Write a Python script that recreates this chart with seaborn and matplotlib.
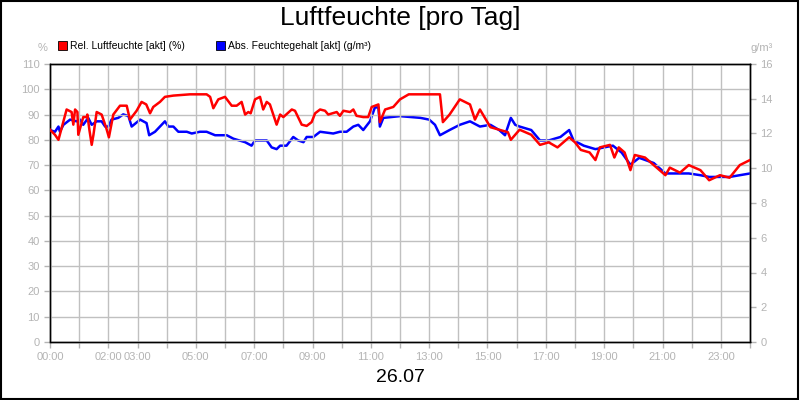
import matplotlib
matplotlib.use("Agg")
import matplotlib.pyplot as plt
import seaborn as sns
import pandas as pd
from matplotlib.patches import Rectangle

plt.rcParams["font.family"] = "Liberation Sans"

# Relative humidity (%) – time in hours
rel_t = [0, 0.17, 0.29, 0.57, 0.74, 0.8, 0.86, 0.94, 0.97, 1.14, 1.26, 1.28, 1.35, 1.43, 1.49, 1.6, 1.77, 1.92, 2.02,
         2.17, 2.4, 2.63, 2.74, 2.97, 3.14, 3.3, 3.43, 3.54, 3.77, 3.94, 4.23, 4.8, 5.37, 5.49, 5.6, 5.77, 6.0, 6.23,
         6.4, 6.57, 6.69, 6.8, 6.88, 7.03, 7.2, 7.31, 7.43, 7.54, 7.77, 7.89, 8.0, 8.29, 8.4, 8.63, 8.8, 8.97, 9.09,
         9.26, 9.43, 9.54, 9.83, 9.94, 10.06, 10.29, 10.4, 10.51, 10.74, 10.91, 11.03, 11.26, 11.31, 11.49, 11.77,
         12.0, 12.3, 13.0, 13.37, 13.47, 13.7, 14.05, 14.4, 14.57, 14.74, 15.1, 15.4, 15.7, 15.8, 16.1, 16.5, 16.8,
         17.1, 17.4, 17.8, 18.0, 18.2, 18.5, 18.7, 18.85, 19.2, 19.35, 19.5, 19.7, 19.9, 20.05, 20.4, 20.7, 21.1,
         21.25, 21.6, 21.9, 22.3, 22.6, 22.97, 23.3, 23.65, 24.0]
rel_v = [84, 82, 80, 92, 91, 86, 92, 91, 82, 89, 89, 90, 84, 78, 82, 91, 90, 85, 81,
         90, 93.5, 93.5, 88, 91.5, 95, 94, 90.5, 93, 95, 97, 97.5, 98, 98, 97, 92.5, 96, 97, 93.5,
         93.5, 95, 90, 91, 90.5, 96, 97, 92, 95, 94, 86, 90, 89, 92, 91.5, 86, 85.5, 87, 90.5,
         92, 91.5, 90, 91, 89.5, 91.5, 91, 92, 89.5, 89, 89, 93, 94, 87, 92, 93,
         96, 98, 98, 98, 87, 90, 96, 94, 88, 92, 85, 84, 83, 80, 84, 82, 78,
         79, 77, 81, 79, 76, 75, 72, 77, 78, 73, 77, 75, 68, 74, 73, 70, 66,
         69, 67, 70, 68, 64, 66, 65, 70, 72]

# Absolute humidity (g/m³)
abs_t = [0, 0.17, 0.29, 0.34, 0.46, 0.69, 0.91, 1.03, 1.14, 1.31, 1.43, 1.6, 1.77, 1.89, 2.0, 2.11, 2.34, 2.51,
         2.69, 2.8, 3.09, 3.31, 3.4, 3.6, 3.77, 3.94, 4.06, 4.23, 4.4, 4.69, 4.86, 5.14, 5.37, 5.66, 6.06, 6.29,
         6.69, 6.91, 7.03, 7.43, 7.6, 7.77, 7.89, 8.11, 8.34, 8.51, 8.69, 8.8, 9.03, 9.26, 9.71, 9.94, 10.17, 10.4,
         10.57, 10.74, 10.97, 11.14, 11.26, 11.31, 11.43, 12.0, 12.7, 13.0, 13.2, 13.37, 13.7, 14.05, 14.4, 14.74,
         15.1, 15.4, 15.6, 15.8, 15.95, 16.1, 16.5, 16.8, 17.1, 17.5, 17.8, 17.95, 18.3, 18.7, 19.0, 19.3, 19.6,
         19.9, 20.2, 20.7, 21.1, 21.6, 21.9, 22.3, 22.6, 23.3, 23.65, 24.0]
abs_v = [12.2, 12.1, 12.4, 12.1, 12.5, 12.8, 12.7, 12.8, 12.5, 12.9, 12.5, 12.7, 12.7, 12.4, 12.4, 12.8, 12.9, 13.1,
         13.0, 12.4, 12.8, 12.6, 11.9, 12.1, 12.4, 12.7, 12.4, 12.4, 12.1, 12.1, 12.0, 12.1, 12.1, 11.9, 11.9, 11.7,
         11.5, 11.3, 11.6, 11.6, 11.2, 11.1, 11.3, 11.3, 11.8, 11.6, 11.5, 11.8, 11.8, 12.1, 12.0, 12.1, 12.1, 12.4,
         12.5, 12.2, 12.7, 13.5, 13.5, 12.4, 12.9, 13.0, 12.9, 12.8, 12.5, 11.9, 12.2, 12.5, 12.7, 12.4,
         12.5, 12.2, 11.9, 12.9, 12.5, 12.4, 12.2, 11.6, 11.6, 11.8, 12.2, 11.6, 11.3, 11.1, 11.2, 11.3, 10.9,
         10.2, 10.6, 10.3, 9.7, 9.7, 9.7, 9.6, 9.5, 9.5, 9.6, 9.7]

hour_ticks = [0, 2, 3, 5, 7, 9, 11, 13, 15, 17, 19, 21, 23]
hour_labels = ["00:00", "02:00", "03:00", "05:00", "07:00", "09:00", "11:00", "13:00",
               "15:00", "17:00", "19:00", "21:00", "23:00"]
left_ticks = list(range(0, 111, 10))
right_ticks = list(range(0, 17, 2))

gray = "#b4b4b4"
fig = plt.figure(figsize=(8, 4), dpi=100)
fig.patch.set_facecolor("white")
fig.add_artist(Rectangle((0.001, 0.002), 0.997, 0.995, transform=fig.transFigure,
                         fill=False, edgecolor="black", linewidth=1.5))
ax = fig.add_axes([0.0625, 0.145, 0.875, 0.695])
ax2 = ax.twinx()

df_r = pd.DataFrame({"t": rel_t, "v": rel_v})
df_a = pd.DataFrame({"t": abs_t, "v": abs_v})
sns.lineplot(data=df_r, x="t", y="v", ax=ax, color="#ff0000", linewidth=1.8, zorder=3)
sns.lineplot(data=df_a, x="t", y="v", ax=ax2, color="#0000ff", linewidth=1.8, zorder=3)
ax.set_zorder(ax2.get_zorder() + 1)
ax.patch.set_visible(False)
# bring red above? reference shows red on top mostly -> keep ax on top

ax.set_xlim(0, 24)
ax.set_ylim(0, 110)
ax2.set_ylim(0, 16)
ax.set_xticks(range(0, 25), minor=False)
ax.set_xticklabels([hour_labels[hour_ticks.index(h)] if h in hour_ticks else "" for h in range(25)])
ax.set_yticks(left_ticks)
ax2.set_yticks(right_ticks)
ax.grid(True, color="#c0c0c0", linewidth=1)
ax2.grid(False)
for a in (ax, ax2):
    a.set_xlabel("")
    a.set_ylabel("")
    for s in a.spines.values():
        s.set_color("black")
        s.set_linewidth(1)
    a.tick_params(colors=gray, labelsize=8, length=4, width=1)
    a.tick_params(axis="y", length=4)
ax.tick_params(axis="x", labelcolor=gray)
for lab in ax.get_xticklabels() + ax.get_yticklabels() + ax2.get_yticklabels():
    lab.set_color(gray)

fig.text(0.5, 0.955, "Luftfeuchte [pro Tag]", ha="center", va="center", fontsize=19)
fig.text(0.5, 0.055, "26.07", ha="center", va="center", fontsize=14)
fig.text(0.053, 0.88, "%", ha="center", va="center", fontsize=8, color=gray)
fig.text(0.952, 0.88, "g/m³", ha="center", va="center", fontsize=8, color=gray)
fig.add_artist(Rectangle((0.073, 0.875), 0.011, 0.022, transform=fig.transFigure,
                         facecolor="#ff0000", edgecolor="black", linewidth=0.6))
fig.text(0.088, 0.886, "Rel. Luftfeuchte [akt] (%)", va="center", fontsize=7.5)
fig.add_artist(Rectangle((0.27, 0.875), 0.011, 0.022, transform=fig.transFigure,
                         facecolor="#0000ff", edgecolor="black", linewidth=0.6))
fig.text(0.285, 0.886, "Abs. Feuchtegehalt [akt] (g/m³)", va="center", fontsize=7.5)

fig.savefig("out.png", dpi=100)
